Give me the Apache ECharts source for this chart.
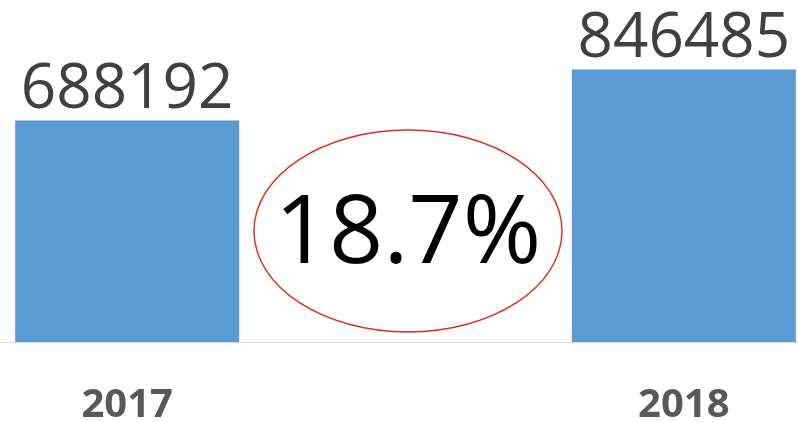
<!DOCTYPE html>
<html>
<head>
<meta charset="utf-8">
<script src="https://cdn.jsdelivr.net/npm/echarts@6/dist/echarts.min.js"></script>
<style>
    html, body { margin: 0; padding: 0; background: #fff; }
    #chart { width: 798px; height: 422px; }
</style>
</head>
<body>
<div id="chart"></div>
<script>
    // years, with an empty slot in the middle for the growth bubble
    var years = ['2017', '', '2018'];
    var totals = [688192, null, 846485];
    var growthText = '18.7%';

    var option = {
        animation: false,
        grid: {
            left: -12,
            right: -25,
            top: 20,
            bottom: 80,
            outerBoundsMode: 'none'
        },
        xAxis: {
            type: 'category',
            data: years,
            axisTick: { show: false },
            axisLine: { lineStyle: { color: '#d9d9d9', width: 1 } },
            axisLabel: {
                margin: 44,
                fontFamily: 'Open Sans',
                fontWeight: 'bold',
                fontSize: 40,
                color: '#595959'
            }
        },
        yAxis: {
            type: 'value',
            min: 0,
            max: 1000000,
            show: false,
            splitLine: { show: false }
        },
        series: [
            {
                type: 'bar',
                data: totals,
                barWidth: 224,
                itemStyle: { color: '#5b9bd5' },
                label: {
                    show: true,
                    position: 'top',
                    distance: -1,
                    fontFamily: 'Open Sans',
                    fontSize: 62,
                    color: '#404040'
                }
            }
        ],
        graphic: [
            {
                type: 'ellipse',
                shape: { cx: 408, cy: 231, rx: 154, ry: 101 },
                style: { fill: '#fff', stroke: '#d9302f', lineWidth: 1.5 }
            },
            {
                type: 'text',
                x: 408,
                y: 236,
                style: {
                    text: growthText,
                    fontFamily: 'Open Sans',
                    fontSize: 95,
                    fill: '#000',
                    align: 'center',
                    verticalAlign: 'middle'
                }
            }
        ]
    };

    var myChart = echarts.init(document.getElementById('chart'));
    myChart.setOption(option);
</script>
</body>
</html>
